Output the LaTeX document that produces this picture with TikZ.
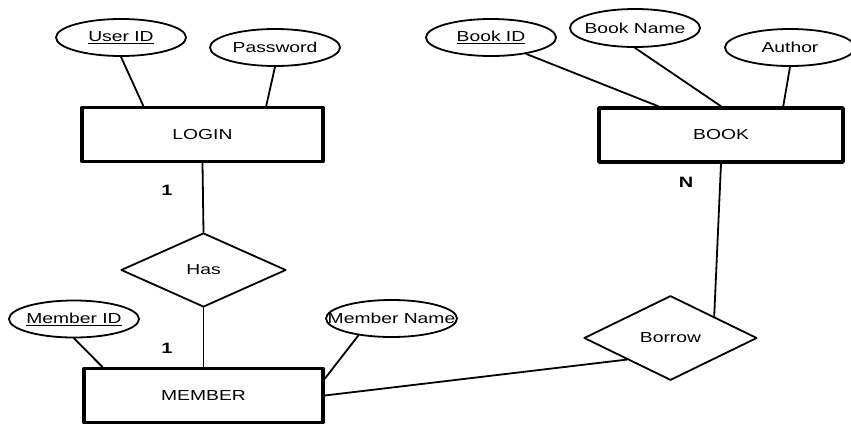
\documentclass[tikz,border=0pt]{standalone}
\usepackage{fontspec}
\setmainfont[FakeStretch=1.33]{Liberation Sans}
\usetikzlibrary{shapes.geometric}

\begin{document}
\begin{tikzpicture}[x=1pt,y=-1pt,line join=round,line cap=round,line width=1.8pt]
	\tikzset{every node/.style={font=\fontsize{14.5}{16}\selectfont}}
	\tikzset{entity/.style={draw,line width=3.5pt,minimum width=241,minimum height=54}}
	\tikzset{attr/.style={draw,ellipse,minimum width=130,minimum height=37}}
	\tikzset{rel/.style={draw,diamond,minimum width=165,minimum height=74}}
	\tikzset{card/.style={font=\bfseries\fontsize{15}{16}\selectfont}}
	\useasboundingbox (0,0) rectangle (851,426);
	% entities
	\node[entity] (login) at (202.5,134.5) {LOGIN};
	\node[entity,minimum width=244] (book) at (721,135) {BOOK};
	\node[entity,minimum width=239] (member) at (203.5,395.5) {MEMBER};
	% attributes
	\node[attr,label=center:{\underline{User ID}}] (uid) at (121,37.5) {};
	\node[attr,label=center:Password] (pw) at (275,47.5) {};
	\node[attr,label=center:{\underline{Book ID}}] (bid) at (491,37.5) {};
	\node[attr,minimum height=38,label=center:Book Name] (bname) at (635,28) {};
	\node[attr,label=center:Author] (author) at (790,47.5) {};
	\node[attr,label=center:{\underline{Member ID}}] (mid) at (74,319) {};
	\node[attr,minimum width=131,label=center:Member Name] (mname) at (391.5,318.5) {};
	% relations
	\node[rel] (has) at (203.5,270) {Has};
	\node[rel,minimum width=173,minimum height=76] (borrow) at (670.5,338) {Borrow};
	% cardinalities
	\node[card] (c1) at (167,190) {1};
	\node[card] (c2) at (167,348) {1};
	\node[card] (cn) at (686,182) {N};
	% links
	\draw (uid.south) -- ([xshift=63pt]login.north west);
	\draw (pw.south) -- ([xshift=186pt]login.north west);
	\draw (login.south) -- (has.north);
	\draw (has.south) -- (member.north);
	\draw (mid.south) -- ([xshift=20pt]member.north west);
	\draw (mname.207) -- ([yshift=-12pt]member.north east);
	\draw (member.east) -- (borrow.south west);
	\draw (book.south) -- (borrow.north east);
	\draw (bid.335) -- ([xshift=61pt]book.north west);
	\draw (bname.south) -- (book.north);
	\draw (author.south) -- ([xshift=186pt]book.north west);
\end{tikzpicture}
\end{document}
